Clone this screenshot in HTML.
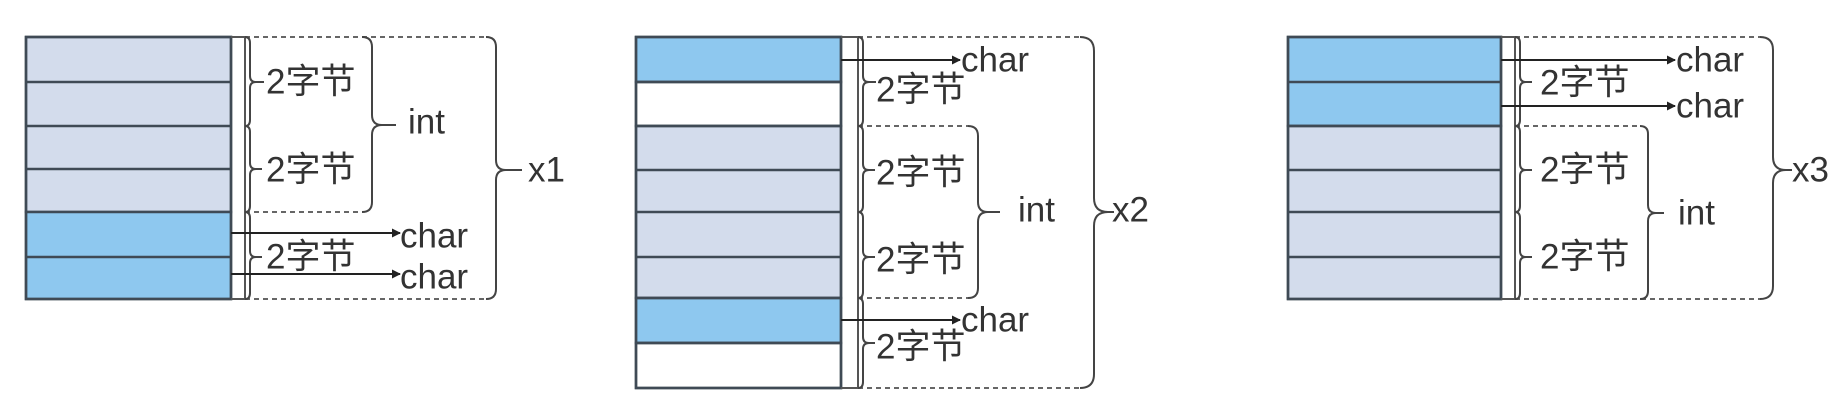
<!DOCTYPE html>
<html><head><meta charset="utf-8"><style>
html,body{margin:0;padding:0;background:#fff;}
svg{display:block}
text{font-family:"Liberation Sans","Noto Sans CJK SC",sans-serif;font-size:35px;fill:#333;dominant-baseline:central}
</style></head><body>
<svg width="1843" height="401" viewBox="0 0 1843 401" xmlns="http://www.w3.org/2000/svg">
<defs><marker id="a" markerWidth="9" markerHeight="9" refX="8" refY="4.5" orient="auto" markerUnits="userSpaceOnUse"><path d="M0 0L9 4.5L0 9Z" fill="#222"/></marker></defs>
<g stroke="#3f4a55" stroke-width="2.5">
<rect x="26" y="37" width="205" height="175" fill="#d3dcec"/>
<rect x="26" y="212" width="205" height="87" fill="#8ec8ef"/>
<path d="M26 82H231M26 126H231M26 169H231M26 257H231" fill="none"/>
<rect x="26" y="37" width="205" height="262" fill="none"/>
<rect x="636" y="37" width="205" height="45" fill="#8ec8ef"/>
<rect x="636" y="82" width="205" height="44" fill="#fff"/>
<rect x="636" y="126" width="205" height="172" fill="#d3dcec"/>
<rect x="636" y="298" width="205" height="45" fill="#8ec8ef"/>
<rect x="636" y="343" width="205" height="45" fill="#fff"/>
<path d="M636 82H841M636 126H841M636 170H841M636 212H841M636 257H841M636 298H841M636 343H841" fill="none"/>
<rect x="636" y="37" width="205" height="351" fill="none"/>
<rect x="1288" y="37" width="213" height="89" fill="#8ec8ef"/>
<rect x="1288" y="126" width="213" height="173" fill="#d3dcec"/>
<path d="M1288 82H1501M1288 126H1501M1288 170H1501M1288 212H1501M1288 257H1501" fill="none"/>
<rect x="1288" y="37" width="213" height="262" fill="none"/>
</g>
<g stroke="#555" stroke-width="2" fill="none">
<path d="M231 37H245V299H231M841 37H858V388H841M1501 37H1515V299H1501"/>
</g>
<g stroke="#666" stroke-width="2" fill="none" stroke-dasharray="5 4">
<path d="M245 37H486M245 299H486M245 212H362"/>
<path d="M858 37H1080M858 388H1080M858 126H968M858 298H968"/>
<path d="M1515 37H1760M1515 299H1760M1515 126H1640"/>
</g>
<g stroke="#444" stroke-width="2" fill="none">
<path d="M245 37Q250 37 250 43L250 76Q250 82 256 82Q250 82 250 88L250 120Q250 126 245 126"/>
<path d="M245 126Q250 126 250 132L250 163Q250 169 256 169Q250 169 250 175L250 206Q250 212 245 212"/>
<path d="M245 212Q250 212 250 218L250 251Q250 257 256 257Q250 257 250 263L250 293Q250 299 245 299"/>
<path d="M256 82H264M256 169H262M256 257H262"/>
<path d="M362 37Q372 37 372 47L372 115Q372 125 382 125Q372 125 372 135L372 202Q372 212 362 212M382 125H396"/>
<path d="M486 37Q496 37 496 47L496 160Q496 170 506 170Q496 170 496 180L496 289Q496 299 486 299M506 170H522"/>
<path d="M858 37Q863 37 863 43L863 76Q863 82 869 82Q863 82 863 88L863 120Q863 126 858 126"/>
<path d="M858 126Q863 126 863 132L863 164Q863 170 869 170Q863 170 863 176L863 206Q863 212 858 212"/>
<path d="M858 212Q863 212 863 218L863 251Q863 257 869 257Q863 257 863 263L863 292Q863 298 858 298"/>
<path d="M858 298Q863 298 863 304L863 337Q863 343 869 343Q863 343 863 349L863 382Q863 388 858 388"/>
<path d="M869 82H876M869 170H875M869 257H875M869 343H875"/>
<path d="M968 126Q978 126 978 136L978 202Q978 212 988 212Q978 212 978 222L978 288Q978 298 968 298M988 212H1000"/>
<path d="M1080 37Q1094 37 1094 51L1094 198Q1094 212 1108 212Q1094 212 1094 226L1094 374Q1094 388 1080 388M1108 212H1114"/>
<path d="M1515 37Q1520 37 1520 43L1520 76Q1520 82 1526 82Q1520 82 1520 88L1520 120Q1520 126 1515 126"/>
<path d="M1515 126Q1520 126 1520 132L1520 164Q1520 170 1526 170Q1520 170 1520 176L1520 206Q1520 212 1515 212"/>
<path d="M1515 212Q1520 212 1520 218L1520 251Q1520 257 1526 257Q1520 257 1520 263L1520 293Q1520 299 1515 299"/>
<path d="M1526 82H1532M1526 170H1532M1526 257H1532"/>
<path d="M1640 126Q1648 126 1648 134L1648 205Q1648 213 1656 213Q1648 213 1648 221L1648 291Q1648 299 1640 299M1656 213H1664"/>
<path d="M1760 37Q1773 37 1773 50L1773 157Q1773 170 1786 170Q1773 170 1773 183L1773 286Q1773 299 1760 299M1786 170H1792"/>
</g>
<g stroke="#222" stroke-width="2" marker-end="url(#a)">
<line x1="231" y1="233" x2="400" y2="233"/>
<line x1="231" y1="274" x2="400" y2="274"/>
<line x1="841" y1="60" x2="960" y2="60"/>
<line x1="841" y1="320" x2="960" y2="320"/>
<line x1="1501" y1="60" x2="1675" y2="60"/>
<line x1="1501" y1="106" x2="1675" y2="106"/>
</g>
<text x="266" y="82">2字节</text>
<text x="266" y="170">2字节</text>
<text x="266" y="257">2字节</text>
<text x="408" y="122">int</text>
<text x="528" y="170">x1</text>
<text x="400" y="236">char</text>
<text x="400" y="277">char</text>
<text x="876" y="90">2字节</text>
<text x="876" y="173">2字节</text>
<text x="876" y="260">2字节</text>
<text x="876" y="347">2字节</text>
<text x="1018" y="210">int</text>
<text x="1112" y="210">x2</text>
<text x="961" y="60">char</text>
<text x="961" y="320">char</text>
<text x="1540" y="83">2字节</text>
<text x="1540" y="170">2字节</text>
<text x="1540" y="257">2字节</text>
<text x="1676" y="60">char</text>
<text x="1676" y="106">char</text>
<text x="1678" y="213">int</text>
<text x="1792" y="170">x3</text>
</svg>
</body></html>
